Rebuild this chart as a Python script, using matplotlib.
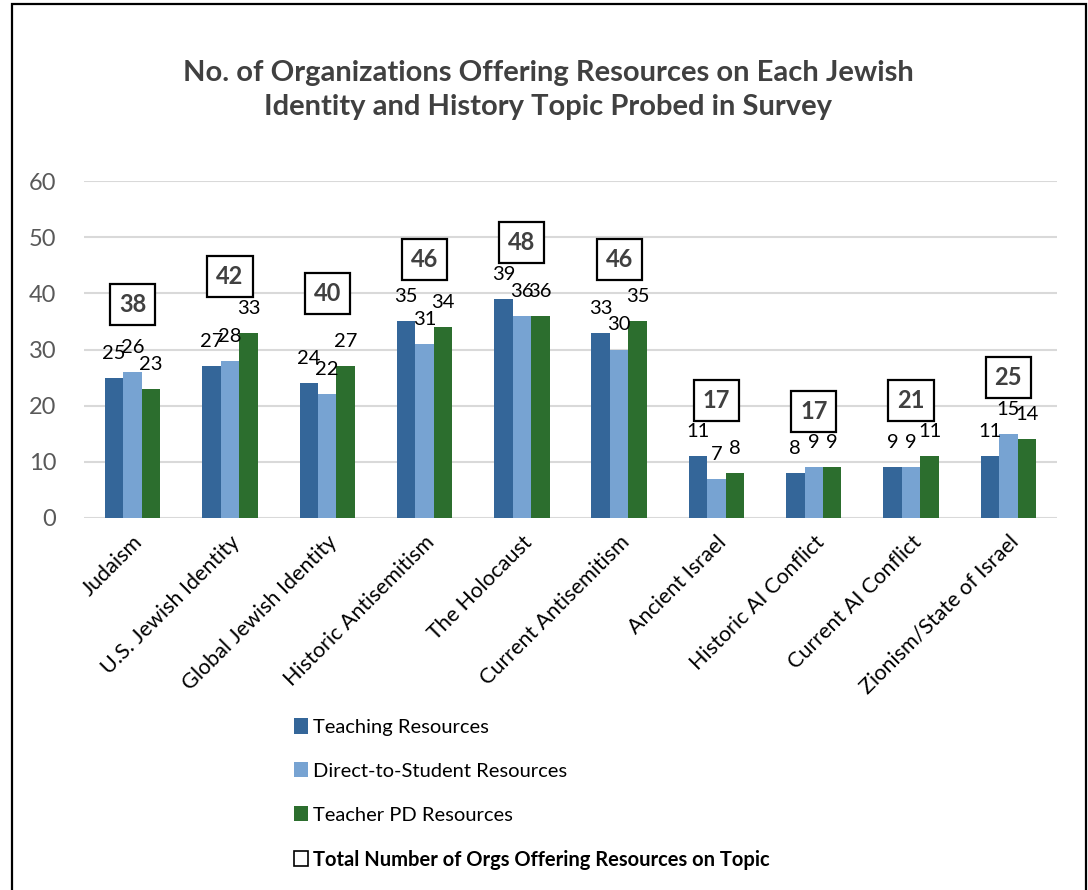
import matplotlib
matplotlib.use("Agg")
import matplotlib.pyplot as plt
import numpy as np
from matplotlib.patches import Rectangle, Patch

categories = ["Judaism", "U.S. Jewish Identity", "Global Jewish Identity",
              "Historic Antisemitism", "The Holocaust", "Current Antisemitism",
              "Ancient Israel", "Historic AI Conflict", "Current AI Conflict",
              "Zionism/State of Israel"]
teaching = [25, 27, 24, 35, 39, 33, 11, 8, 9, 11]
direct = [26, 28, 22, 31, 36, 30, 7, 9, 9, 15]
teacher_pd = [23, 33, 27, 34, 36, 35, 8, 9, 11, 14]
totals = [38, 42, 40, 46, 48, 46, 17, 17, 21, 25]
series_names = ["Teaching Resources", "Direct-to-Student Resources", "Teacher PD Resources"]
total_name = "Total Number of Orgs Offering Resources on Topic"
yticks = [0, 10, 20, 30, 40, 50, 60]

colors = ["#346699", "#77A3D2", "#2C6E2E"]
plt.rcParams['font.family'] = ['Lato', 'DejaVu Sans']

fig = plt.figure(figsize=(10.88, 8.9), dpi=100)
ax = fig.add_axes([84/1088, 1-518/890, (1057-84)/1088, (518-181)/890])

x = np.arange(len(categories))
w = 0.19
series = [teaching, direct, teacher_pd]
for i, (vals, c, name) in enumerate(zip(series, colors, series_names)):
    bars = ax.bar(x + (i-1)*w, vals, width=w, color=c, label=name, zorder=3)
    for b, v in zip(bars, vals):
        ax.annotate(str(v), (b.get_x()+b.get_width()/2, v), xytext=(0, 16),
                    textcoords="offset pixels", ha="center", va="bottom",
                    fontsize=14.5, color="black", zorder=4)

for xi, t, a, b, c in zip(x, totals, teaching, direct, teacher_pd):
    ypos = max(t, max(a, b, c) + 10)
    ax.text(xi, ypos, str(t), ha="center", va="center", fontsize=17,
            fontweight="bold", color="#404040",
            bbox=dict(boxstyle="square,pad=0.38", fc="white", ec="black", lw=1.6),
            zorder=5)

ax.set_ylim(0, 60)
ax.set_xlim(-0.5, len(categories)-0.5)
ax.set_yticks(yticks)
ax.set_yticklabels([str(t) for t in yticks], fontsize=17, color="#595959")
ax.set_xticks(x)
ax.set_xticklabels(categories, rotation=45, ha="right", va="top",
                   rotation_mode="anchor", fontsize=15.5, color="black")
ax.tick_params(axis="both", length=0)
ax.tick_params(axis="y", pad=20)
ax.tick_params(axis="x", pad=10)
ax.grid(axis="y", color="#D9D9D9", lw=1.5, zorder=0)
for s in ax.spines.values():
    s.set_visible(False)

fig.text(548/1088, 1-90/890,
         "No. of Organizations Offering Resources on Each Jewish\nIdentity and History Topic Probed in Survey",
         ha="center", va="center", fontsize=21, fontweight="bold", color="#404040",
         linespacing=1.4)

handles = [Patch(facecolor=c, edgecolor="none") for c in colors]
handles.append(Patch(facecolor="white", edgecolor="black", lw=1.2))
leg = fig.legend(handles, series_names + [total_name], loc="upper left",
                 bbox_to_anchor=(276/1088, 1-700/890), frameon=False,
                 fontsize=14.5, handlelength=0.7, handleheight=0.8,
                 handletextpad=0.25, labelspacing=1.3)
leg.get_texts()[-1].set_fontweight("bold")

fig.patches.append(Rectangle((12/1088, -0.01), (1086-12)/1088, (1-4/890)+0.01,
                             transform=fig.transFigure, fill=False,
                             ec="black", lw=1.6))

fig.savefig("out.png", dpi=100)
